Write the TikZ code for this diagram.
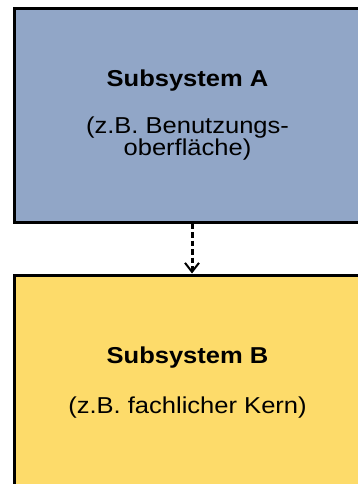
\documentclass[tikz,border=0pt]{standalone}
\usepackage{fontspec}
\setmainfont{Liberation Sans}
\usetikzlibrary{arrows.meta}
\definecolor{boxblue}{HTML}{91A6C7}
\definecolor{boxyellow}{HTML}{FDDB6A}
\newcommand{\widetxt}[1]{\scalebox{1.11}[1]{#1}}
\begin{document}
\begin{tikzpicture}[x=1pt,y=-1pt,
  sysbox/.style={draw=black,line width=3pt,rectangle,minimum width=358pt,inner sep=0pt,anchor=north west},
  title/.style={font=\fontsize{23}{22}\selectfont\bfseries,anchor=base,inner sep=0pt},
  sub/.style={font=\fontsize{23}{22}\selectfont,anchor=base,inner sep=0pt},
  dep/.style={line width=3pt,dash pattern=on 5.5pt off 3pt,-{Straight Barb[length=9pt,width=14pt,line width=2pt]}}]
\useasboundingbox (0,0) rectangle (358,484);
\begin{scope}
\clip (0,0) rectangle (358,484);
\node[sysbox,fill=boxblue,minimum height=213pt] (A) at (12.5,7.5) {};
\node[sysbox,fill=boxyellow,minimum height=240pt] (B) at (12.5,273.5) {};
\node[title] (Atitle) at (187.5,87) {\widetxt{Subsystem A}};
\node[sub] (Asub1) at (187.5,133) {\widetxt{(z.B. Benutzungs-}};
\node[sub] (Asub2) at (187.5,155) {\widetxt{oberfläche)}};
\node[title] (Btitle) at (187.5,363) {\widetxt{Subsystem B}};
\node[sub] (Bsub) at (187.5,413) {\widetxt{(z.B. fachlicher Kern)}};
\draw[dep] (A.south -| 192,0) -- (B.north -| 192,0);
\end{scope}
\end{tikzpicture}
\end{document}
